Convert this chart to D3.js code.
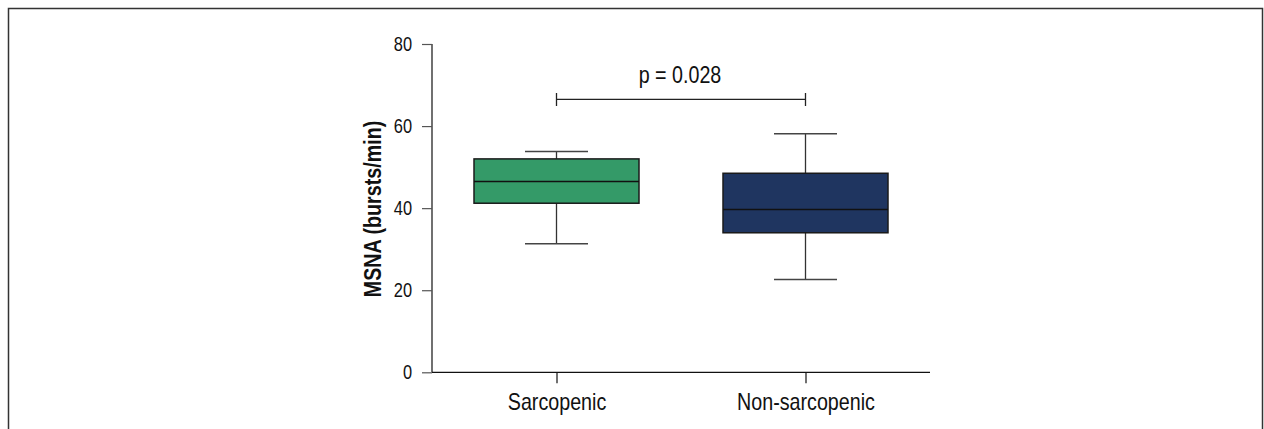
<!DOCTYPE html>
<html>
<head>
<meta charset="utf-8">
<script src="https://cdn.jsdelivr.net/npm/d3@7"></script>
<style>
    body { margin: 0; background: #fff; }
    svg text { font-family: "Liberation Sans", Arial, sans-serif; }
</style>
</head>
<body>
<div id="chart"></div>
<script>
// groups and box summaries
let groups = ["Sarcopenic", "Non-sarcopenic"];
let whiskerLow = [31.3, 22.6];
let q1 = [41.2, 34.0];
let median = [46.5, 39.7];
let q3 = [52.0, 48.5];
let whiskerHigh = [53.8, 58.1];
let fills = ["#349a68", "#1f3560"];
let yTicks = [0, 20, 40, 60, 80];
let pLabel = "p = 0.028";
let bracketValue = 66.5;

let width = 1264, height = 429;

// squeeze text to look like a narrow face (no narrow font installed)
function narrow(sel) {
    sel.each(function() {
        let w = this.getComputedTextLength();
        d3.select(this)
            .attr("textLength", w * 0.82)
            .attr("lengthAdjust", "spacingAndGlyphs");
    });
}

let svg = d3.select("#chart").append("svg")
    .attr("width", width)
    .attr("height", height);

// outer frame, runs off the bottom edge
svg.append("rect")
    .attr("x", 8.5).attr("y", 8.5)
    .attr("width", 1254).attr("height", 450)
    .attr("fill", "none")
    .attr("stroke", "#333")
    .attr("stroke-width", 1.5);

let xScale = d3.scalePoint()
    .domain(groups)
    .range([432, 930])
    .padding(0.5);

let yScale = d3.scaleLinear()
    .domain([0, 80])
    .range([372.3, 44]);

let boxW = 165, capW = 63;

let yAxis = d3.axisLeft(yScale)
    .tickValues(yTicks)
    .tickSize(10)
    .tickPadding(10);

let xAxis = d3.axisBottom(xScale)
    .tickSize(11)
    .tickPadding(10);

let gy = svg.append("g")
    .attr("transform", "translate(432,0)")
    .call(yAxis);
gy.select(".domain").attr("d", "M0," + yScale(80) + "V" + yScale(0));
gy.selectAll(".tick text").attr("font-size", 20);

let gx = svg.append("g")
    .attr("transform", "translate(0," + yScale(0) + ")")
    .call(xAxis);
gx.select(".domain").attr("d", "M432,0H930");
gx.selectAll(".tick text").attr("font-size", 24);

svg.selectAll(".tick text").attr("fill", "#111").call(narrow);
svg.selectAll(".domain, .tick line")
    .attr("stroke", "#111")
    .attr("stroke-width", 1.2);
gy.selectAll(".tick line").attr("stroke", "#555");

// y label
svg.append("text")
    .attr("transform", "translate(381," + 209 + ") rotate(-90)")
    .attr("text-anchor", "middle")
    .attr("font-size", 24)
    .attr("font-weight", "bold")
    .attr("fill", "#111")
    .text("MSNA (bursts/min)")
    .call(narrow);

// boxes
let data = groups.map(function(g, i) {
    return {g: g, lo: whiskerLow[i], q1: q1[i], med: median[i], q3: q3[i], hi: whiskerHigh[i], fill: fills[i]};
});

let box = svg.selectAll(".box")
    .data(data)
    .enter().append("g")
    .attr("class", "box");

box.append("line")
    .attr("x1", d => xScale(d.g)).attr("x2", d => xScale(d.g))
    .attr("y1", d => yScale(d.lo)).attr("y2", d => yScale(d.hi))
    .attr("stroke", "#333").attr("stroke-width", 1.3);

box.append("line")
    .attr("x1", d => xScale(d.g) - capW / 2).attr("x2", d => xScale(d.g) + capW / 2)
    .attr("y1", d => yScale(d.lo)).attr("y2", d => yScale(d.lo))
    .attr("stroke", "#444").attr("stroke-width", 1.5);

box.append("line")
    .attr("x1", d => xScale(d.g) - capW / 2).attr("x2", d => xScale(d.g) + capW / 2)
    .attr("y1", d => yScale(d.hi)).attr("y2", d => yScale(d.hi))
    .attr("stroke", "#444").attr("stroke-width", 1.5);

box.append("rect")
    .attr("x", d => xScale(d.g) - boxW / 2)
    .attr("width", boxW)
    .attr("y", d => yScale(d.q3))
    .attr("height", d => yScale(d.q1) - yScale(d.q3))
    .attr("fill", d => d.fill)
    .attr("stroke", "#1a1a1a")
    .attr("stroke-width", 1.5);

box.append("line")
    .attr("x1", d => xScale(d.g) - boxW / 2).attr("x2", d => xScale(d.g) + boxW / 2)
    .attr("y1", d => yScale(d.med)).attr("y2", d => yScale(d.med))
    .attr("stroke", "#111").attr("stroke-width", 1.5);

// significance bracket
let bx1 = xScale(groups[0]), bx2 = xScale(groups[1]), by = yScale(bracketValue);
svg.append("path")
    .attr("d", "M" + bx1 + "," + (by - 6.5) + "V" + (by + 6.5) +
               "M" + bx1 + "," + by + "H" + bx2 +
               "M" + bx2 + "," + (by - 6.5) + "V" + (by + 6.5))
    .attr("fill", "none")
    .attr("stroke", "#222")
    .attr("stroke-width", 1.3);

svg.append("text")
    .attr("x", (bx1 + bx2) / 2 - 1)
    .attr("y", by - 16)
    .attr("text-anchor", "middle")
    .attr("font-size", 24)
    .attr("fill", "#111")
    .text(pLabel)
    .call(narrow);
</script>
</body>
</html>
